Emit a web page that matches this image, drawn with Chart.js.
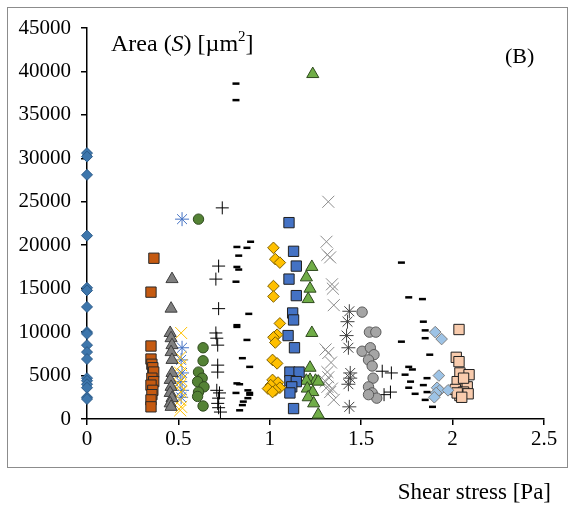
<!DOCTYPE html>
<html>
<head>
<meta charset="utf-8">
<script src="https://cdn.jsdelivr.net/npm/chart.js@4"></script>
<style>
html,body{margin:0;padding:0;background:#fff;}
canvas{display:block;}
</style>
</head>
<body>
<canvas id="c" width="575" height="506" style="width:575px;height:506px"></canvas>
<script>
// ---- data (x = shear stress [Pa], y = area [µm²]) ----
const xTicks = [0, 0.5, 1, 1.5, 2, 2.5];
const xTickLabels = ["0", "0.5", "1", "1.5", "2", "2.5"];
const yTicks = [0, 5000, 10000, 15000, 20000, 25000, 30000, 35000, 40000, 45000];

const s01x = [0,0,0,0,0,0,0,0,0,0,0,0,0,0,0,0,0,0];
const s01y = [30600,30200,28100,21100,15100,14800,12900,10000,9800,8500,7700,6900,4700,4400,4000,3600,2500,2300];

const s02x = [0.366,0.35,0.35,0.35,0.355,0.36,0.365,0.355,0.365,0.35,0.36,0.355,0.35,0.35];
const s02y = [18500,14600,8400,6900,6300,5900,5400,4700,4300,3900,3300,2800,2200,1400];

const s03x = [0.465,0.46,0.455,0.46,0.465,0.46,0.465,0.465,0.455,0.46,0.455,0.465,0.455,0.46];
const s03y = [16100,12700,9900,9300,8500,7700,6800,5300,4500,3700,3000,2400,1800,1400];

const s04x = [0.515,0.51,0.515,0.51,0.515,0.51,0.515,0.51,0.515,0.51];
const s04y = [9900,7100,6200,5300,4500,3900,3100,2200,1400,1000];

const s05x = [0.52,0.52,0.515,0.52,0.51,0.52,0.515];
const s05y = [23000,8200,6800,5300,4300,3300,2500];

const s06x = [0.61,0.635,0.635,0.61,0.63,0.605,0.64,0.61,0.605,0.635];
const s06y = [23000,8200,6700,5400,4700,4300,3700,3100,2600,1500];

const s07x = [0.74,0.72,0.705,0.72,0.705,0.71,0.715,0.715,0.715,0.71,0.725,0.72,0.715,0.72,0.73];
const s07y = [24300,17600,16100,12700,9900,9300,8500,6200,5400,3300,3000,2400,1800,1300,800];

const s08x = [0.815,0.815,0.82,0.875,0.895,0.83,0.82,0.83,0.815,0.885,0.82,0.82,0.875,0.85,0.89,0.82,0.835,0.815,0.88,0.89,0.89,0.88,0.855,0.85,0.835];
const s08y = [38600,36700,19800,19700,20400,18800,17500,17200,15800,12100,10800,10600,9100,7000,6000,4100,4000,3000,3300,3000,2800,2400,2000,1600,1000];

const s09x = [1.02,1.03,1.055,1.02,1.02,1.055,1.04,1.02,1.03,1.015,1.04,1.015,1.045,1.005,1.055,1.03,0.99,1.015];
const s09y = [19700,18400,18000,15300,14100,11000,9700,9400,8800,6800,6400,4500,4200,3900,3600,3300,3500,3100];

const s10x = [1.105,1.13,1.145,1.105,1.145,1.125,1.13,1.1,1.135,1.11,1.16,1.11,1.145,1.12,1.11,1.13];
const s10y = [22600,19300,17600,16100,14200,12200,11400,9600,8200,5400,5400,4400,4300,3700,3000,1200];

const s11x = [1.235,1.23,1.2,1.22,1.21,1.23,1.22,1.22,1.25,1.2,1.265,1.205,1.235,1.21,1.24,1.265];
const s11y = [39700,17500,16300,15000,13800,9900,5900,4500,4400,4400,4300,3500,3100,2500,1800,500];

const s12x = [1.32,1.31,1.315,1.33,1.34,1.345,1.35,1.305,1.32,1.335,1.315,1.305,1.315,1.33,1.35,1.32,1.34];
const s12y = [25000,20400,18900,18600,15500,15000,13100,8000,7600,6500,5400,4300,3700,3100,2200,4800,3500];

const s13x = [1.435,1.425,1.42,1.43,1.44,1.44,1.43,1.435];
const s13y = [12400,11200,9600,8200,5300,4700,4000,1400];

const s14x = [1.505,1.545,1.58,1.505,1.55,1.57,1.54,1.56,1.565,1.54,1.56,1.585,1.54];
const s14y = [12300,10000,10000,7800,8200,7400,6800,6100,4700,3700,3000,2400,2800];

const s15x = [1.615,1.665,1.625,1.66];
const s15y = [5500,5300,2800,3100];

const s16x = [1.72,1.76,1.835,1.84,1.85,1.85,1.72,1.875,1.76,1.78,1.74,1.86,1.77,1.84,1.76,1.86,1.795,1.85,1.89];
const s16y = [18000,14000,13800,11200,10200,9300,8900,7400,6000,5700,5100,4700,4300,3900,3600,3100,2900,2200,1400];

const s17x = [1.905,1.94,1.925,1.915,1.93,1.975,1.91,1.9];
const s17y = [10000,9200,5000,3600,3300,3300,3000,2500];

const s18x = [2.035,2.02,2.035,2.04,2.09,2.025,2.08,2.015,2.06,2.04,2.085,2.025,2.06,2.05];
const s18y = [10300,7100,6600,5300,5100,4300,3700,3400,3100,2700,2900,3000,4700,2500];

// ---- styles ----
const pts = (xs, ys) => xs.map((x, i) => ({x: x, y: ys[i]}));
function ds(xs, ys, style, r, fill, stroke, lw) {
  return {data: pts(xs, ys), pointStyle: style, pointRadius: r, pointHoverRadius: r,
    backgroundColor: fill, borderColor: stroke, pointBorderWidth: lw, borderWidth: lw,
    showLine: false, clip: false};
}
const datasets = [
  ds(s01x, s01y, 'rectRot', 5.5, '#3D76AC', '#2B5A88', 1),
  ds(s02x, s02y, 'rect', 7.3, '#C55A11', '#2a2a2a', 1),
  ds(s03x, s03y, 'triangle', 7, '#7F7F7F', '#3f3f3f', 1),
  ds(s04x, s04y, 'crossRot', 8.5, 'rgba(0,0,0,0)', '#FFC000', 1),
  ds(s05x, s05y, 'star', 7, 'rgba(0,0,0,0)', '#4472C4', 1),
  ds(s06x, s06y, 'circle', 5.2, '#548235', '#2F4A1E', 1),
  ds(s07x, s07y, 'cross', 6.5, 'rgba(0,0,0,0)', '#000000', 1),
  ds(s08x, s08y, 'line', 3.5, '#000000', '#000000', 2.5),
  ds(s09x, s09y, 'rectRot', 5.8, '#FFC000', '#7F6000', 1),
  ds(s10x, s10y, 'rect', 7.3, '#4472C4', '#1f1f1f', 1),
  ds(s11x, s11y, 'triangle', 7, '#70AD47', '#2F4A1E', 1),
  ds(s12x, s12y, 'crossRot', 8.5, 'rgba(0,0,0,0)', '#8C8C8C', 1),
  ds(s13x, s13y, 'star', 7, 'rgba(0,0,0,0)', '#404040', 1),
  ds(s14x, s14y, 'circle', 5.2, '#A5A5A5', '#595959', 1),
  ds(s15x, s15y, 'cross', 6.5, 'rgba(0,0,0,0)', '#000000', 1),
  ds(s16x, s16y, 'line', 3.5, '#000000', '#000000', 2.5),
  ds(s17x, s17y, 'rectRot', 5.8, '#9DC3E6', '#7F7F7F', 1),
  ds(s18x, s18y, 'rect', 7.3, '#F8CBAD', '#1f1f1f', 1)
];

const SERIF = "'Liberation Serif', 'Times New Roman', serif";

const decor = {
  id: 'decor',
  afterDraw(chart) {
    const ctx = chart.ctx;
    ctx.save();
    ctx.strokeStyle = '#8c8c8c';
    ctx.lineWidth = 1;
    ctx.strokeRect(7.5, 7.5, 560, 460);
    ctx.fillStyle = '#000';
    ctx.textBaseline = 'alphabetic';
    ctx.textAlign = 'left';
    // Area (S) [µm²]
    let x = 111, y = 51;
    const parts = [
      ['Area (', '24px ' + SERIF, 0],
      ['S', 'italic 24px ' + SERIF, 0],
      [') [µm', '24px ' + SERIF, 0],
      ['2', '15px ' + SERIF, -10],
      [']', '24px ' + SERIF, 0]
    ];
    parts.forEach(p => {
      ctx.font = p[1];
      ctx.fillText(p[0], x, y + p[2]);
      x += ctx.measureText(p[0]).width;
    });
    ctx.font = '22px ' + SERIF;
    ctx.fillText('(B)', 505, 63);
    ctx.textAlign = 'right';
    ctx.font = '23px ' + SERIF;
    ctx.fillText('Shear stress [Pa]', 551, 499);
    ctx.restore();
  }
};

new Chart(document.getElementById('c'), {
  type: 'scatter',
  data: {datasets: datasets},
  options: {
    responsive: false,
    animation: false,
    events: [],
    layout: {padding: {left: 0, right: 31, top: 28, bottom: 0}},
    plugins: {legend: {display: false}, tooltip: {enabled: false}},
    scales: {
      x: {
        type: 'linear', min: 0, max: 2.5,
        afterBuildTicks(s) { s.ticks = xTicks.map(v => ({value: v})); },
        ticks: {color: '#000', font: {family: SERIF, size: 21}, padding: 2,
          callback: (v) => xTickLabels[xTicks.indexOf(v)] ?? ''},
        grid: {drawOnChartArea: false, drawTicks: true, tickLength: 6, color: '#000', lineWidth: 1.5},
        border: {color: '#000', width: 1.5},
        afterFit(s) { s.height = 87; }
      },
      y: {
        type: 'linear', min: 0, max: 45000,
        afterBuildTicks(s) { s.ticks = yTicks.map(v => ({value: v})); },
        ticks: {color: '#000', font: {family: SERIF, size: 21}, padding: 10,
          callback: (v) => String(v)},
        grid: {drawOnChartArea: false, drawTicks: true, tickLength: 6, color: '#000', lineWidth: 1.5},
        border: {color: '#000', width: 1.5},
        afterFit(s) { s.width = 87; }
      }
    }
  },
  plugins: [decor]
});
</script>
</body>
</html>
